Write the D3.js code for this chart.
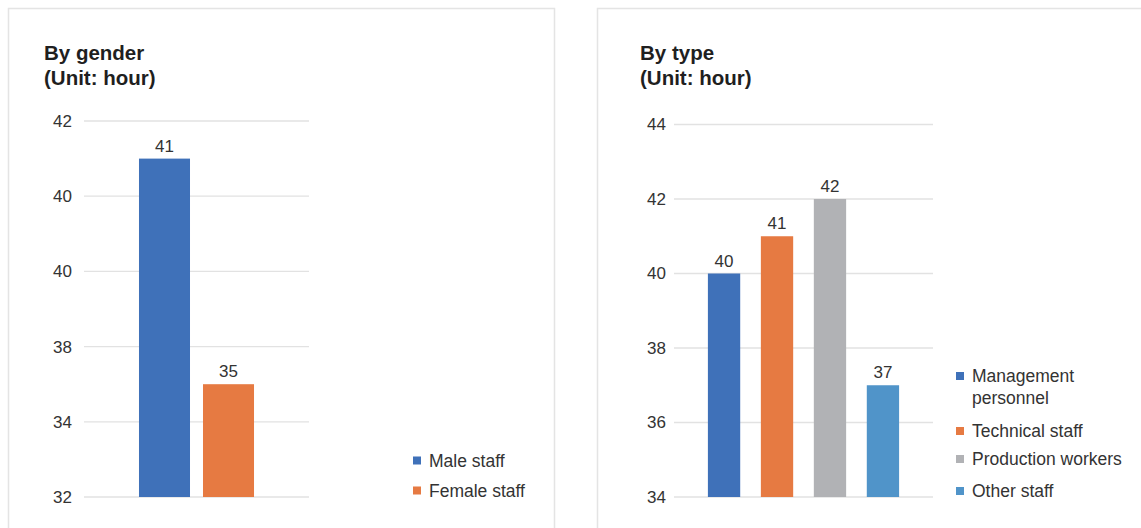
<!DOCTYPE html>
<html>
<head>
<meta charset="utf-8">
<script src="https://cdn.jsdelivr.net/npm/d3@7"></script>
<style>
  html, body { margin: 0; padding: 0; background: #fff; }
  svg { display: block; font-family: "Liberation Sans", Arial, Helvetica, sans-serif; }
</style>
</head>
<body>
<svg id="chart" width="1141" height="528"></svg>
<script>
// Average weekly working hours
const genderCategories = ["Male staff", "Female staff"];
const genderValues = [41, 35];
const genderTicks = [32, 34, 36, 38, 40, 42];
const genderTickLabels = ["32", "34", "38", "40", "40", "42"];
const genderColors = ["#3f71b9", "#e67a42"];

const typeCategories = ["Management personnel", "Technical staff", "Production workers", "Other staff"];
const typeLegendLines = [["Management", "personnel"], ["Technical staff"], ["Production workers"], ["Other staff"]];
const typeValues = [40, 41, 42, 37];
const typeTicks = [34, 36, 38, 40, 42, 44];
const typeTickLabels = ["34", "36", "38", "40", "42", "44"];
const typeColors = ["#3f71b9", "#e67a42", "#b1b2b5", "#5094c9"];

const svg = d3.select("#chart");
const textColor = "#333";
const gridColor = "#e2e2e2";

// panel frames
svg.append("path")
  .attr("d", "M8.5,528 V8.5 H554.5 V528")
  .attr("fill", "none").attr("stroke", "#e4e4e4").attr("stroke-width", 1.5);
svg.append("path")
  .attr("d", "M597.5,528 V8.5 H1141")
  .attr("fill", "none").attr("stroke", "#e4e4e4").attr("stroke-width", 1.5);

function drawPanel(opts) {
  const g = svg.append("g");

  // title block
  const title = g.append("text")
    .attr("x", opts.titleX).attr("y", 60)
    .attr("font-size", 20.5).attr("font-weight", "bold").attr("fill", "#1f1f1f");
  title.append("tspan").attr("x", opts.titleX).attr("y", 60).text(opts.title);
  title.append("tspan").attr("x", opts.titleX).attr("y", 85).text("(Unit: hour)");

  const y = d3.scaleLinear().domain(opts.domain).range([497, opts.yTop]);
  const x = d3.scaleBand().domain(opts.categories).range(opts.xRange)
    .paddingInner(opts.paddingInner).paddingOuter(opts.paddingOuter);

  // gridlines
  g.append("g").selectAll("line").data(opts.ticks).join("line")
    .attr("x1", opts.xRange[0]).attr("x2", opts.xRange[1])
    .attr("y1", d => y(d)).attr("y2", d => y(d))
    .attr("stroke", gridColor).attr("stroke-width", 1.3);

  // y axis labels
  const axis = d3.axisLeft(y).tickValues(opts.ticks)
    .tickFormat((d, i) => opts.tickLabels[i]).tickSize(0).tickPadding(0);
  const ag = g.append("g").attr("transform", `translate(${opts.labelRight},0)`).call(axis);
  ag.select(".domain").remove();
  ag.selectAll("text").attr("font-size", 17).attr("fill", textColor)
    .attr("font-family", "Liberation Sans, Arial, sans-serif");

  // bars
  g.append("g").selectAll("rect").data(opts.values).join("rect")
    .attr("x", (d, i) => x(opts.categories[i]))
    .attr("width", x.bandwidth())
    .attr("y", d => y(d))
    .attr("height", d => y(opts.domain[0]) - y(d))
    .attr("fill", (d, i) => opts.colors[i]);

  // value labels
  g.append("g").selectAll("text").data(opts.values).join("text")
    .attr("x", (d, i) => x(opts.categories[i]) + x.bandwidth() / 2)
    .attr("y", d => y(d) - 7)
    .attr("text-anchor", "middle").attr("font-size", 17).attr("fill", textColor)
    .text(d => d);

  // legend
  const lg = g.append("g");
  opts.legendLines.forEach((lines, i) => {
    const cy = opts.legendY[i];
    lg.append("rect")
      .attr("x", opts.legendX).attr("y", cy - 4).attr("width", 8).attr("height", 8)
      .attr("fill", opts.colors[i]);
    const t = lg.append("text").attr("font-size", 17.5).attr("fill", textColor);
    lines.forEach((ln, j) => {
      t.append("tspan").attr("x", opts.legendX + 16).attr("y", cy + 6 + j * 22).text(ln);
    });
  });
}

drawPanel({
  title: "By gender", titleX: 44,
  categories: genderCategories, values: genderValues, colors: genderColors,
  domain: [32, 42], ticks: genderTicks, tickLabels: genderTickLabels, yTop: 121,
  xRange: [84, 309], paddingInner: 0.203, paddingOuter: 0.859, labelRight: 72,
  legendLines: genderCategories.map(c => [c]), legendX: 413, legendY: [460.5, 490.5]
});

drawPanel({
  title: "By type", titleX: 640,
  categories: typeCategories, values: typeValues, colors: typeColors,
  domain: [34, 44], ticks: typeTicks, tickLabels: typeTickLabels, yTop: 124.5,
  xRange: [674, 933], paddingInner: 0.39, paddingOuter: 0.64, labelRight: 666,
  legendLines: typeLegendLines, legendX: 956, legendY: [376, 431, 459, 491]
});
</script>
</body>
</html>
